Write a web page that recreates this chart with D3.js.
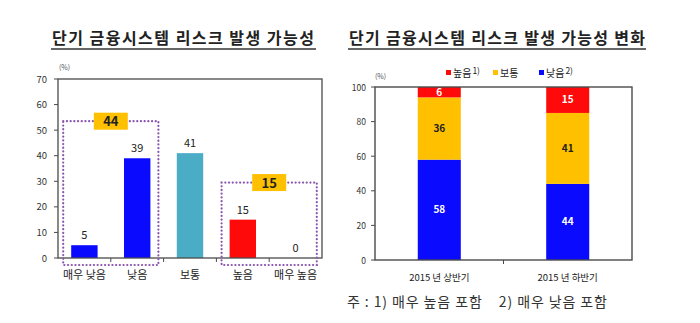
<!DOCTYPE html>
<html>
<head>
<meta charset="utf-8">
<script src="https://cdn.jsdelivr.net/npm/d3@7"></script>
<style>
  html, body { margin: 0; padding: 0; background: #fff; }
  svg { display: block; font-family: "Noto Sans CJK KR", "Noto Sans", sans-serif; }
</style>
</head>
<body>
<svg id="chart" width="700" height="323"></svg>
<script>
// Left panel: distribution of responses (%)
const levelCategories = ["매우 낮음", "낮음", "보통", "높음", "매우 높음"];
const levelValues = [5, 39, 41, 15, 0];
const levelColors = ["#0a0aff", "#0a0aff", "#4bacc6", "#ff0a0a", "#ff0a0a"];
const leftTicks = [0, 10, 20, 30, 40, 50, 60, 70];
// Grouped totals shown in the dotted boxes
const groupMembers = [["매우 낮음", "낮음"], ["높음", "매우 높음"]];

// Right panel: change between half-years (%)
const periods = ["2015 년 상반기", "2015 년 하반기"];
const lowValues = [58, 44];
const midValues = [36, 41];
const highValues = [6, 15];
const seriesNames = ["높음1)", "보통", "낮음2)"];
const rightTicks = [0, 20, 40, 60, 80, 100];

const svg = d3.select("#chart");
const axisColor = "#4a4a4a";
const textColor = "#333";

// ---------- Left panel ----------
{
  const L = { x0: 58, x1: 322, yTop: 79, yBot: 258 };
  const y = d3.scaleLinear().domain([0, 70]).range([L.yBot, L.yTop]);
  const x = d3.scaleBand().domain(levelCategories).range([L.x0, L.x1])
    .paddingInner(0.5).paddingOuter(0.25);
  const g = svg.append("g");

  g.append("text").attr("x", 52).attr("y", 44)
    .attr("textLength", 262).attr("lengthAdjust", "spacing")
    .attr("font-size", 16).attr("font-weight", 700).attr("fill", "#222")
    .text("단기 금융시스템 리스크 발생 가능성");
  g.append("line").attr("x1", 51).attr("x2", 316).attr("y1", 49).attr("y2", 49)
    .attr("stroke", "#333").attr("stroke-width", 1.3);

  g.append("text").attr("x", 59).attr("y", 70).attr("font-size", 7).attr("fill", "#555").text("(%)");

  // bars
  g.selectAll("rect.bar").data(levelCategories).join("rect")
    .attr("class", "bar")
    .attr("x", d => x(d)).attr("width", x.bandwidth())
    .attr("y", (d, i) => y(levelValues[i]))
    .attr("height", (d, i) => y(0) - y(levelValues[i]))
    .attr("fill", (d, i) => levelColors[i]);

  g.selectAll("text.val").data(levelCategories).join("text")
    .attr("class", "val")
    .attr("x", d => x(d) + x.bandwidth() / 2)
    .attr("y", (d, i) => y(levelValues[i]) - 6)
    .attr("text-anchor", "middle").attr("font-size", 11).attr("fill", "#222")
    .text((d, i) => levelValues[i]);

  // frame
  g.append("rect").attr("x", L.x0).attr("y", L.yTop)
    .attr("width", L.x1 - L.x0).attr("height", L.yBot - L.yTop)
    .attr("fill", "none").attr("stroke", axisColor).attr("stroke-width", 1.3);

  // y ticks
  leftTicks.forEach(t => {
    g.append("line").attr("x1", L.x0 - 4).attr("x2", L.x0)
      .attr("y1", y(t)).attr("y2", y(t)).attr("stroke", axisColor);
    g.append("text").attr("x", 47).attr("y", y(t) + 3.5)
      .attr("text-anchor", "end").attr("font-size", 9.5).attr("fill", textColor).text(t);
  });

  // x ticks at category boundaries
  const step = x.step();
  for (let i = 1; i < levelCategories.length; i++) {
    const bx = x(levelCategories[i]) - step * 0.25;
    g.append("line").attr("x1", bx).attr("x2", bx).attr("y1", L.yBot).attr("y2", L.yBot + 4)
      .attr("stroke", axisColor);
  }

  g.selectAll("text.cat").data(levelCategories).join("text")
    .attr("class", "cat")
    .attr("x", d => x(d) + x.bandwidth() / 2).attr("y", 279)
    .attr("text-anchor", "middle").attr("font-size", 11).attr("fill", "#222")
    .text(d => d);

  // dotted group boxes with total labels
  groupMembers.forEach(members => {
    const vals = members.map(m => levelValues[levelCategories.indexOf(m)]);
    const total = d3.sum(vals);
    const left = x(members[0]) - 8;
    const right = x(members[members.length - 1]) + x.bandwidth() + 8;
    const top = y(d3.max(vals) + 14.5);
    const bottom = L.yBot + 7;
    g.append("rect").attr("x", left).attr("y", top)
      .attr("width", right - left).attr("height", bottom - top)
      .attr("fill", "none").attr("stroke", "#8a55b0").attr("stroke-width", 2.2)
      .attr("stroke-dasharray", "0.1 3.6").attr("stroke-linecap", "round");
    const cx = (left + right) / 2;
    g.append("rect").attr("x", cx - 17).attr("y", top - 8.5).attr("width", 34).attr("height", 17)
      .attr("fill", "#ffc000");
    g.append("text").attr("x", cx).attr("y", top + 5)
      .attr("text-anchor", "middle").attr("font-size", 13).attr("font-weight", 700)
      .attr("fill", "#222").text(total);
  });
}

// ---------- Right panel ----------
{
  const R = { x0: 375, x1: 632, yTop: 87, yBot: 260 };
  const y = d3.scaleLinear().domain([0, 100]).range([R.yBot, R.yTop]);
  const x = d3.scaleBand().domain(periods).range([R.x0, R.x1])
    .paddingInner(0.665).paddingOuter(0.333);
  const g = svg.append("g");

  g.append("text").attr("x", 349).attr("y", 44)
    .attr("textLength", 296).attr("lengthAdjust", "spacing")
    .attr("font-size", 16).attr("font-weight", 700).attr("fill", "#222")
    .text("단기 금융시스템 리스크 발생 가능성 변화");
  g.append("line").attr("x1", 348).attr("x2", 646).attr("y1", 49).attr("y2", 49)
    .attr("stroke", "#333").attr("stroke-width", 1.3);

  g.append("text").attr("x", 375).attr("y", 79).attr("font-size", 7).attr("fill", "#555").text("(%)");

  const rows = periods.map((p, i) => ({ period: p, low: lowValues[i], mid: midValues[i], high: highValues[i] }));
  const stack = d3.stack().keys(["low", "mid", "high"])(rows);
  const fills = { low: "#0a0aff", mid: "#ffc000", high: "#ff0a0a" };
  const labelFill = { low: "#fff", mid: "#222", high: "#fff" };

  stack.forEach(layer => {
    g.selectAll(null).data(layer).join("rect")
      .attr("x", d => x(d.data.period)).attr("width", x.bandwidth())
      .attr("y", d => y(d[1])).attr("height", d => y(d[0]) - y(d[1]))
      .attr("fill", fills[layer.key]);
    g.selectAll(null).data(layer).join("text")
      .attr("x", d => x(d.data.period) + x.bandwidth() / 2)
      .attr("y", d => (y(d[0]) + y(d[1])) / 2 + 3.5)
      .attr("text-anchor", "middle").attr("font-size", 10).attr("font-weight", 700)
      .attr("fill", labelFill[layer.key])
      .text(d => d.data[layer.key]);
  });

  g.append("rect").attr("x", R.x0).attr("y", R.yTop)
    .attr("width", R.x1 - R.x0).attr("height", R.yBot - R.yTop)
    .attr("fill", "none").attr("stroke", axisColor).attr("stroke-width", 1.4);

  rightTicks.forEach(t => {
    g.append("line").attr("x1", R.x0 - 4).attr("x2", R.x0)
      .attr("y1", y(t)).attr("y2", y(t)).attr("stroke", axisColor);
    g.append("text").attr("x", 366).attr("y", y(t) + 3.5)
      .attr("text-anchor", "end").attr("font-size", 8.5).attr("fill", textColor).text(t);
  });

  const mid = (R.x0 + R.x1) / 2;
  g.append("line").attr("x1", mid).attr("x2", mid).attr("y1", R.yBot).attr("y2", R.yBot + 4)
    .attr("stroke", axisColor);

  g.selectAll("text.cat").data(periods).join("text")
    .attr("class", "cat")
    .attr("x", d => x(d) + x.bandwidth() / 2).attr("y", 281)
    .attr("text-anchor", "middle").attr("font-size", 9.5).attr("fill", "#222")
    .text(d => d);

  // legend
  const legendFills = ["#ff0a0a", "#ffc000", "#0a0aff"];
  const legendX = [446, 493, 539];
  seriesNames.forEach((name, i) => {
    g.append("rect").attr("x", legendX[i]).attr("y", 70).attr("width", 5).attr("height", 5)
      .attr("fill", legendFills[i]);
    const t = g.append("text").attr("x", legendX[i] + 7).attr("y", 76.5)
      .attr("font-size", 10).attr("fill", "#222");
    const m = name.match(/^(.*?)(\d\))?$/);
    t.append("tspan").text(m[1]);
    if (m[2]) t.append("tspan").attr("dx", 1).attr("dy", -3).attr("font-size", 8.5).text(m[2]);
  });

  g.append("text").attr("x", 347).attr("y", 307)
    .attr("textLength", 260).attr("lengthAdjust", "spacing")
    .attr("font-size", 14).attr("fill", "#333").attr("xml:space", "preserve")
    .text("주 : 1) 매우 높음 포함    2) 매우 낮음 포함");
}
</script>
</body>
</html>
